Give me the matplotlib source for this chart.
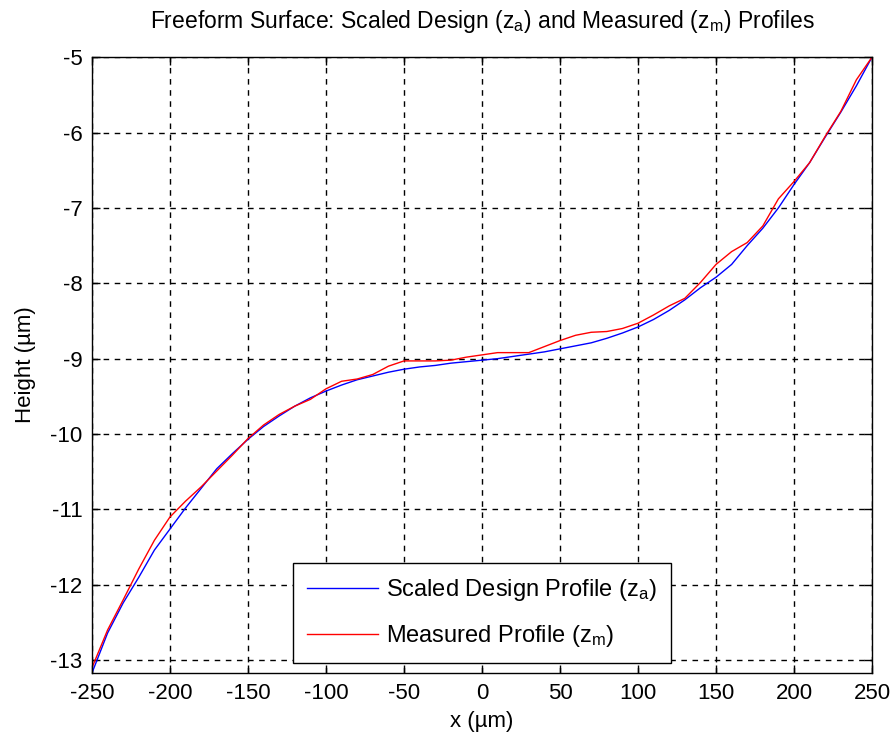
import matplotlib
matplotlib.use("Agg")
import matplotlib.pyplot as plt
import numpy as np

plt.rcParams["font.family"] = ["Liberation Sans", "DejaVu Sans"]
plt.rcParams["mathtext.fontset"] = "custom"
plt.rcParams["mathtext.rm"] = "Liberation Sans"
plt.rcParams["axes.unicode_minus"] = False

# x positions (um), values every 10 um
x_um = list(range(-250, 251, 10))

# scaled design profile z_a (um)
z_design = [
    -13.17, -12.64, -12.24, -11.90, -11.54, -11.26, -10.98, -10.72, -10.46, -10.26,
    -10.07, -9.90, -9.76, -9.63, -9.52, -9.43, -9.35, -9.28, -9.23, -9.18,
    -9.14, -9.11, -9.09, -9.06, -9.04, -9.02, -9.00, -8.97, -8.94, -8.91,
    -8.87, -8.83, -8.79, -8.73, -8.66, -8.58, -8.48, -8.36, -8.22, -8.06,
    -7.92, -7.75, -7.50, -7.27, -7.00, -6.69, -6.40, -6.06, -5.73, -5.38,
    -5.00,
]

# measured profile z_m (um)
z_meas = [
    -13.10, -12.60, -12.20, -11.79, -11.41, -11.10, -10.89, -10.70, -10.49, -10.28,
    -10.06, -9.88, -9.74, -9.63, -9.54, -9.40, -9.30, -9.27, -9.21, -9.10,
    -9.03, -9.03, -9.03, -9.02, -8.98, -8.95, -8.92, -8.92, -8.92, -8.84,
    -8.76, -8.69, -8.65, -8.64, -8.60, -8.53, -8.42, -8.30, -8.20, -7.99,
    -7.75, -7.58, -7.46, -7.24, -6.88, -6.65, -6.40, -6.05, -5.72, -5.30,
    -5.00,
]

x_ticks = list(range(-250, 251, 50))
y_ticks = list(range(-13, -4))

fig = plt.figure(figsize=(8.93, 7.42), dpi=100)
ax = fig.add_axes([0.103, 0.093, 0.8735, 0.830])

ax.plot(x_um, z_design, color="#0000ff", lw=1.0,
        label=r"Scaled Design Profile ($\mathregular{z_a}$)")
ax.plot(x_um, z_meas, color="#ff0000", lw=1.0,
        label=r"Measured Profile ($\mathregular{z_m}$)")

ax.set_xlim(-250, 250)
ax.set_ylim(-13.17, -5)
ax.set_xticks(x_ticks)
ax.set_yticks(y_ticks)
ax.tick_params(direction="in", length=6, width=1, top=True, right=True,
               labelsize=16, colors="black", pad=7)
for s in ax.spines.values():
    s.set_linewidth(1.0)
ax.grid(True, color="black", linestyle=(0, (4, 4)), linewidth=1.0)

ax.set_xlabel("x (\u00b5m)", fontsize=16, labelpad=5)
ax.set_ylabel("Height (\u00b5m)", fontsize=16, labelpad=10)
ax.set_title(r"Freeform Surface: Scaled Design ($\mathregular{z_a}$) and "
             r"Measured ($\mathregular{z_m}$) Profiles", fontsize=16.5, pad=21)

leg = ax.legend(loc="lower center", bbox_to_anchor=(0.5, 0.016), fontsize=17,
                handlelength=3.0, handletextpad=0.35, fancybox=False, framealpha=1,
                edgecolor="black", borderpad=0.6, labelspacing=0.85,
                borderaxespad=0)
leg.get_frame().set_linewidth(1.0)

fig.savefig("out.png", dpi=100)
